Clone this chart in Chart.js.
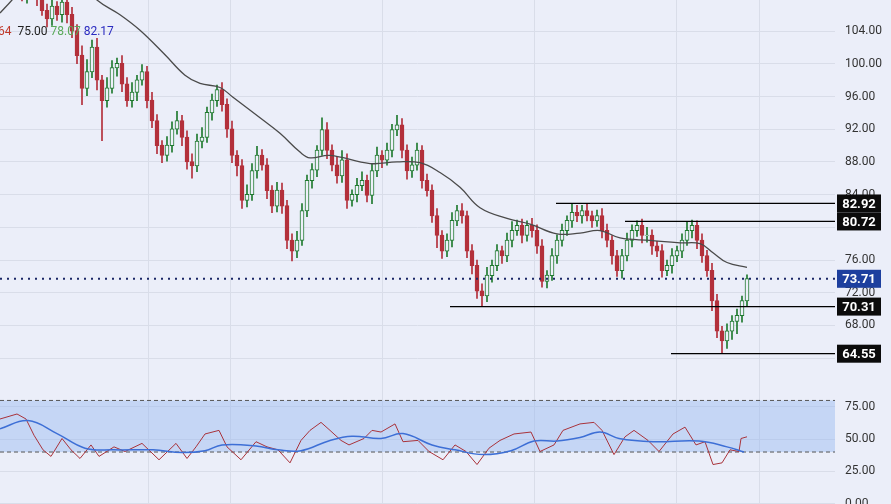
<!DOCTYPE html>
<html><head><meta charset="utf-8">
<script src="https://cdn.jsdelivr.net/npm/chart.js@4"></script>
<style>
html,body{margin:0;padding:0;background:#ebeef9;width:891px;height:504px;overflow:hidden;font-family:Roboto,"Noto Sans",sans-serif}
#top{position:absolute;left:0;top:0;width:891px;height:386px}
#bot{position:absolute;left:0;top:386px;width:891px;height:118px}
#leg{position:absolute;left:-2px;top:24px;font-size:12px;z-index:5}
</style></head><body>
<div id="top"><canvas id="c1"></canvas></div>
<div id="bot"><canvas id="c2"></canvas></div>
<div id="leg"><span style="color:#c0392b">64</span>&nbsp; <span style="color:#222">75.00</span>&nbsp;<span style="color:#5aaa5a">78.07</span>&nbsp;<span style="color:#2b2bc0">82.17</span></div>
<script>
const closes=[109,109.5,110,109,108.5,109,108.8,108,106.5,105.5,107,106,107.5,106,104,101,97,99,102,98,95.5,97,99.5,100,97.5,95.5,96.5,98,99,95.5,93,90,88.8,90,92,93,91,88,87.5,90.5,91,94,95.5,96.8,95,92,88.8,87.5,83.3,84,86.9,88.8,87.6,84.5,82.6,84.5,82.6,78.4,77.1,78.4,82,85.7,87,89.4,91.9,89.4,87.6,86.3,88.2,83.3,84,85.1,85.7,83.9,86.9,88.8,88.2,89.4,91.9,92.5,89.4,86.9,87.6,89.4,85.7,84.5,81.4,79,77.1,78.4,80.8,82,81.4,77.1,75.3,72.2,71.6,74.1,75.3,77.1,76.5,78.4,79.6,80.2,79,80.2,79.6,77.7,73.4,74.1,76.5,78.4,79.6,80.8,81.8,81.4,82,81.4,80.8,81.4,79.6,78.4,76.5,74.7,76.5,78.4,79.6,80.2,79,79,77.7,77.1,74.7,75.3,76.5,77.1,78.4,79.6,80.2,78.4,76.5,74.7,71,67.3,66.1,67.3,68.5,69.2,71,73.7];
const wickUp=[0.8,1,0.6,1.2,0.7,0.9,1,0.5,1.1,0.8,1.4,0.6,1,0.7,0.9,0.8,1.2,1.5,0.9,1.1,0.6,1.3,0.9,0.7,1,0.8,1.2,0.6,0.9,0.7,1,0.8,0.6,1.1,0.9,1.2,0.7,0.8,1,0.9,1.2,0.7,0.8,0.6,0.9,0.7,1,0.6,0.8,1.2,0.9,1.1,0.7,0.8,0.6,1,0.9,0.7,0.8,1.1,0.9,0.7,0.8,0.6,1.5,0.9,0.7,1,1.2,0.8,0.6,0.9,1.1,0.7,0.8,1,0.6,0.9,0.7,1.2,0.8,0.7,1,0.9,0.6,0.8,0.7,0.9,0.6,0.8,1,0.7,0.9,0.6,0.8,0.7,0.9,1,0.7,0.8,0.6,0.9,1.1,0.7,0.8,0.6,0.9,0.7,0.8,0.6,0.9,0.7,0.8,0.6,1,0.9,0.7,0.8,0.6,0.7,0.9,0.8,0.6,0.7,0.8,0.9,0.7,0.6,0.8,1,0.7,0.6,0.8,0.7,0.9,0.6,0.8,1,0.7,0.6,0.8,0.7,0.9,0.8,0.6,0.9,0.7,0.8,0.6,0.5,0.4];
const wickDn=[0.7,0.9,1,0.6,0.8,1.1,0.7,0.9,0.6,1,0.8,0.7,0.9,1,0.8,1,2,0.9,0.7,1.2,4.9,0.8,0.6,1,0.9,0.7,0.8,1,0.6,0.9,0.8,1,0.9,0.7,0.8,0.6,1,0.9,1.5,0.7,0.8,0.6,0.9,0.7,0.8,1,0.9,1.2,1,0.8,0.7,0.9,0.6,1,0.8,0.7,0.9,1,1.2,0.8,0.6,0.7,0.9,0.8,0.6,1,0.7,0.9,0.8,1,0.7,0.9,0.6,0.8,1,0.7,0.9,0.6,0.8,0.7,0.9,1,0.8,0.6,0.9,0.7,0.8,1.5,0.9,0.7,0.8,0.6,0.9,0.8,1,0.9,1.2,0.7,0.8,0.6,0.9,0.7,0.8,0.6,0.9,0.7,0.8,0.9,0.7,0.8,0.6,0.9,0.7,0.6,0.8,0.7,0.9,0.6,0.8,0.7,0.9,0.8,1,0.7,0.9,0.6,0.8,0.7,0.9,0.8,1,0.7,0.8,0.6,0.9,0.7,0.8,0.6,0.9,1,0.8,0.7,1.2,0.8,1.5,0.9,1,1.5,0.8,0.6,0.7,0.9,1.6,0.8];
const maPts=[[-0.4,106.2],[2,107.8],[5,110],[16,110],[19,107.8],[23.6,106],[27.6,104.1],[32.6,101.1],[36.6,98.6],[39.6,97.6],[43.6,97.1],[46.2,95.9],[51.6,93.4],[55.6,91.5],[59.6,89.2],[61.6,88.5],[65.6,88.8],[73.6,87.8],[79,88],[83.6,87.9],[87.6,86.7],[91.6,84.9],[95.6,82.4],[101,81.1],[105.6,80.4],[111,79.2],[115.6,79.3],[119.6,79.6],[123.6,78.7],[129.6,78.4],[135.6,78.1],[139.6,78],[142.2,76.9],[145,75.7],[149,75.1]];
const rsiPts=[[-0.4,65.6],[3,69.5],[4.8,65.6],[6.4,53],[8.2,41.7],[9.8,36.6],[12,50.5],[13.8,41.7],[15.6,35],[17.8,45.5],[19.4,36.6],[22.4,44],[24.6,40.4],[28,46.7],[31.4,34],[34.8,46.7],[37,35],[38.8,44],[40.6,54],[43.4,56.8],[45,44],[47.8,34],[50.8,48],[53,44],[55.2,41.7],[57.6,31.6],[59.8,49],[61.6,56.8],[63.8,63],[65.6,56.8],[67.8,49],[69.4,45.5],[72.4,50.5],[74,56.8],[75.8,55.5],[78.6,61.8],[80.2,48],[83.2,49],[85.4,40.4],[88.2,34],[90.6,45.5],[92.8,40.4],[95,30.3],[97.4,43],[99.6,49],[102.4,54],[105.8,55.5],[107.6,40.4],[110.4,45.5],[112.2,56.8],[115.6,61.8],[118.4,63],[120,56.8],[122.4,38],[124.6,51.8],[126.4,56.8],[129.2,49],[131.4,40.4],[134.2,54],[136.6,59.3],[138.8,45.5],[140.6,48],[142.2,30.3],[144,31.6],[145.6,41.7],[147.4,40.4],[147.8,50.5],[149,51.8]];
const rsiMaPts=[[-0.4,58],[5.2,64.4],[11,54.3],[16.6,43],[22.4,41.7],[30.2,41.7],[36,39.6],[40.6,41],[44,45.5],[50.8,44.7],[55.2,41.7],[59.8,41],[65.6,49],[70,52.3],[75.8,50.5],[80.2,54.3],[86,45.5],[90.6,41.7],[96.2,38],[101.8,41],[106.4,48.5],[111,48.5],[115.6,51.3],[119.6,55.5],[123.4,50.5],[130.2,48],[139.4,48.5],[145,44],[148.4,40]];
const priceTicks=[64,68,72,76,80,84,88,92,96,100,104];
const rsiTicks=[0,25,50,75];
const levels=[{v:82.92,from:110.8},{v:80.72,from:124.6},{v:70.31,from:89.6},{v:64.55,from:133.8}];
const lastPrice=73.71;
const gridX=[29.2,45.6,76,106.4,134.8,151.4];

const XMIN=-0.4,XMAX=166.6;
const green='#1f7a2f',red='#b3303b';
const opens=closes.map((c,i)=>i===0?109:closes[i-1]);
const wicks=[],bodies=[],cols=[],fills=[];
closes.forEach((c,i)=>{const o=opens[i];const hi=Math.max(o,c)+(wickUp[i]||0),lo=Math.min(o,c)-(wickDn[i]||0);
wicks.push({x:i,y:[lo,hi]});bodies.push({x:i,y:[Math.min(o,c),Math.max(o,c)+0.05]});
const up=c>=o;cols.push(up?green:red);fills.push(up?'#eef0fa':red);});
const xs=()=>({type:'linear',min:XMIN,max:XMAX,offset:false,bounds:'data',ticks:{display:false},border:{display:false},
 grid:{color:'#d9dde9',drawTicks:false,offset:false},afterBuildTicks:s=>{s.ticks=gridX.map(v=>({value:v}))},afterFit:s=>{s.height=0}});
const yAxis=(min,max,tks)=>({position:'right',min,max,border:{display:false},
 grid:{color:'#d9dde9',drawTicks:false},ticks:{color:'#333',font:{size:12,family:'Roboto'},padding:10,callback:v=>v.toFixed(2)},
 afterBuildTicks:s=>{s.ticks=tks.map(v=>({value:v}))},afterFit:s=>{s.width=56;s.paddingTop=0;s.paddingBottom=0}});
const lvlPlugin={id:'lvl',afterDatasetsDraw(ch){const ctx=ch.ctx,y=ch.scales.y,x=ch.scales.x;ctx.save();
 ctx.strokeStyle='#000';ctx.lineWidth=1.3;
 levels.forEach(l=>{const py=y.getPixelForValue(l.v);ctx.beginPath();ctx.moveTo(x.getPixelForValue(l.from),py);ctx.lineTo(ch.chartArea.right,py);ctx.stroke();});
 const pp=y.getPixelForValue(lastPrice);ctx.strokeStyle='#1b2766';ctx.lineWidth=2;ctx.setLineDash([2,5]);
 ctx.beginPath();ctx.moveTo(0,pp);ctx.lineTo(ch.chartArea.right,pp);ctx.stroke();ctx.setLineDash([]);
 const box=(v,bg)=>{const py=y.getPixelForValue(v);ctx.fillStyle=bg;ctx.fillRect(837,py-9,44,18);
 ctx.fillStyle='#fff';ctx.font='bold 13px Roboto';ctx.textAlign='center';ctx.textBaseline='middle';ctx.fillText(v.toFixed(2),859,py+1);};
 levels.forEach(l=>box(l.v,'#0b0b0b'));box(lastPrice,'#1d3f9e');ctx.restore();}};
new Chart(document.getElementById('c1'),{
 data:{datasets:[
  {type:'bar',data:wicks,backgroundColor:cols,barThickness:1,grouped:false,order:3},
  {type:'bar',data:bodies,backgroundColor:fills,borderColor:cols,borderWidth:1,borderSkipped:false,barThickness:4,grouped:false,order:2},
  {type:'line',data:maPts.map(p=>({x:p[0],y:p[1]})),borderColor:'#4a4a4a',borderWidth:1.3,pointRadius:0,tension:0.4,order:1}
 ]},
 options:{responsive:true,maintainAspectRatio:false,animation:false,layout:{padding:0},
  plugins:{legend:{display:false},tooltip:{enabled:false}},
  scales:{x:xs(),y:yAxis(60.6,107.8,priceTicks)}},
 plugins:[lvlPlugin]});
const bandPlugin={id:'band',beforeDatasetsDraw(ch){const ctx=ch.ctx,y=ch.scales.y,a=ch.chartArea;
 const y1=y.getPixelForValue(80),y2=y.getPixelForValue(40);ctx.save();ctx.fillStyle='rgba(150,185,240,0.45)';
 ctx.fillRect(a.left,y1,a.right-a.left,y2-y1);ctx.strokeStyle='#555';ctx.setLineDash([4,3]);ctx.lineWidth=1;
 [y1,y2].forEach(p=>{ctx.beginPath();ctx.moveTo(a.left,p);ctx.lineTo(a.right,p);ctx.stroke();});ctx.restore();}};
new Chart(document.getElementById('c2'),{
 data:{datasets:[
  {type:'line',data:rsiMaPts.map(p=>({x:p[0],y:p[1]})),borderColor:'#3d6fd6',borderWidth:1.5,pointRadius:0,tension:0.4},
  {type:'line',data:rsiPts.map(p=>({x:p[0],y:p[1]})),borderColor:'#a8323a',borderWidth:1,pointRadius:0,tension:0}
 ]},
 options:{responsive:true,maintainAspectRatio:false,animation:false,layout:{padding:0},
  plugins:{legend:{display:false},tooltip:{enabled:false}},
  scales:{x:xs(),y:yAxis(-0.3,91.2,rsiTicks)}},
 plugins:[bandPlugin]});
</script></body></html>
